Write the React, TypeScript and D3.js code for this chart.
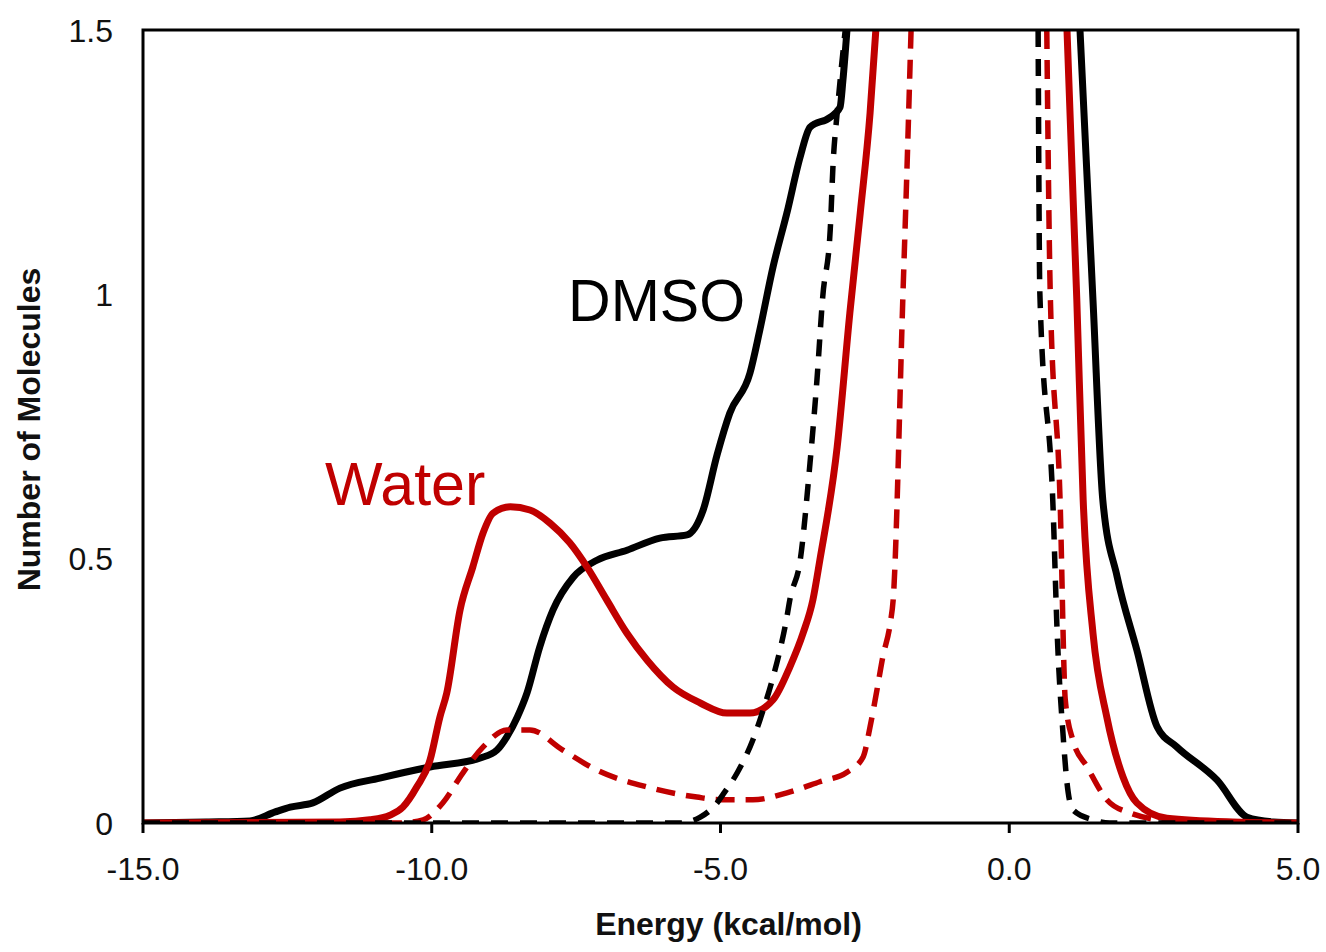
import * as d3 from 'd3';

// values (energy in kcal/mol, number of molecules)
const energyTicks = [-15, -10, -5, 0, 5];
const energyTickLabels = ['-15.0', '-10.0', '-5.0', '0.0', '5.0'];
const countTicks = [0, 0.5, 1, 1.5];
const countTickLabels = ['0', '0.5', '1', '1.5'];

// DMSO, solid line (left and right of the off-scale peak)
const dmsoSolidLeft: [number, number][] = [
  [-15, 0], [-13.9, 0.002], [-13.15, 0.004], [-12.71, 0.021], [-12.45, 0.03],
  [-12.06, 0.038], [-11.59, 0.066], [-10.9, 0.085], [-10.03, 0.106], [-9.16, 0.123],
  [-8.87, 0.138], [-8.7, 0.163], [-8.52, 0.2], [-8.35, 0.246], [-8.13, 0.333],
  [-7.9, 0.403], [-7.55, 0.465], [-7.14, 0.497], [-6.62, 0.516], [-6.05, 0.539],
  [-5.58, 0.545], [-5.3, 0.592], [-5.06, 0.696], [-4.84, 0.775], [-4.49, 0.851],
  [-4.32, 0.932], [-4.09, 1.052], [-3.85, 1.154], [-3.62, 1.26], [-3.45, 1.316],
  [-3.1, 1.335], [-2.93, 1.354], [-2.88, 1.405], [-2.81, 1.5],
];
const dmsoSolidRight: [number, number][] = [
  [1.225, 1.5], [1.45, 0.989], [1.62, 0.611], [1.87, 0.465], [2.21, 0.327],
  [2.56, 0.182], [2.9, 0.144], [3.6, 0.081], [4.12, 0.011], [4.57, 0.002], [5, 0],
];

// DMSO, dashed line
const dmsoDashedLeft: [number, number][] = [
  [-15, 0], [-5.7, 0], [-5.35, 0.011], [-5.06, 0.038], [-4.95, 0.055], [-4.71, 0.095],
  [-4.44, 0.157], [-4.26, 0.214], [-4.09, 0.276], [-3.97, 0.327], [-3.85, 0.39],
  [-3.8, 0.422], [-3.62, 0.497], [-3.45, 0.681], [-3.33, 0.838], [-3.23, 0.995],
  [-3.1, 1.122], [-3.05, 1.248], [-2.98, 1.343], [-2.84, 1.5],
];
const dmsoDashedRight: [number, number][] = [
  [0.5, 1.5], [0.53, 1.002], [0.76, 0.592], [0.83, 0.359], [0.93, 0.17],
  [1.0, 0.076], [1.1, 0.025], [1.45, 0.006], [1.74, 0], [5, 0],
];

// Water, solid line
const waterSolidLeft: [number, number][] = [
  [-15, 0], [-11.59, 0.002], [-11.07, 0.006], [-10.72, 0.015], [-10.5, 0.03],
  [-10.26, 0.068], [-10.03, 0.119], [-9.86, 0.2], [-9.74, 0.246], [-9.51, 0.403],
  [-9.29, 0.484], [-9.11, 0.549], [-8.94, 0.586], [-8.64, 0.598], [-8.3, 0.592],
  [-7.95, 0.567], [-7.61, 0.53], [-7.31, 0.484], [-6.97, 0.422], [-6.62, 0.359],
  [-6.27, 0.308], [-5.82, 0.257], [-5.35, 0.227], [-4.89, 0.208], [-4.49, 0.208],
  [-4.09, 0.233], [-3.8, 0.295], [-3.57, 0.359], [-3.4, 0.422], [-3.28, 0.497],
  [-2.98, 0.711], [-2.76, 0.965], [-2.58, 1.154], [-2.41, 1.343], [-2.31, 1.5],
];
const waterSolidRight: [number, number][] = [
  [1.0, 1.5], [1.17, 0.989], [1.28, 0.611], [1.45, 0.359], [1.69, 0.2],
  [1.97, 0.087], [2.21, 0.038], [2.73, 0.009], [3.87, 0.002], [5, 0],
];

// Water, dashed line
const waterDashedLeft: [number, number][] = [
  [-15, 0], [-10.55, 0], [-10.15, 0.006], [-9.81, 0.038], [-9.46, 0.095],
  [-9.11, 0.144], [-8.7, 0.176], [-8.3, 0.176], [-7.73, 0.138], [-7.14, 0.1],
  [-6.27, 0.068], [-5.41, 0.049], [-5.01, 0.044], [-4.44, 0.044], [-3.85, 0.057],
  [-3.28, 0.078], [-2.81, 0.096], [-2.53, 0.125], [-2.41, 0.182], [-2.29, 0.252],
  [-2.19, 0.314], [-2.06, 0.378], [-2.01, 0.422], [-1.84, 1.002], [-1.77, 1.241],
  [-1.7, 1.5],
];
const waterDashedRight: [number, number][] = [
  [0.65, 1.5], [0.71, 1.002], [0.88, 0.611], [0.97, 0.233], [1.1, 0.157],
  [1.35, 0.106], [1.69, 0.044], [2.09, 0.019], [2.78, 0.004], [3.65, 0], [5, 0],
];

const RED = '#c00000';
const FONT = 'Arial, "Liberation Sans", sans-serif';

export default function App() {
  const width = 1326;
  const height = 952;
  const margin = { top: 30, right: 28, bottom: 129, left: 143 };
  const innerW = width - margin.left - margin.right;
  const innerH = height - margin.top - margin.bottom;

  const x = d3.scaleLinear().domain([-15, 5]).range([0, innerW]);
  const y = d3.scaleLinear().domain([0, 1.5]).range([innerH, 0]);

  const line = d3
    .line<[number, number]>()
    .x((d) => x(d[0]))
    .y((d) => y(d[1]))
    .curve(d3.curveMonotoneX);

  const series = [
    { parts: [dmsoSolidLeft, dmsoSolidRight], color: '#000', dash: null, w: 7 },
    { parts: [waterSolidLeft, waterSolidRight], color: RED, dash: null, w: 7 },
    { parts: [waterDashedLeft, waterDashedRight], color: RED, dash: '19 11', w: 5.5 },
    { parts: [dmsoDashedLeft, dmsoDashedRight], color: '#000', dash: '17 12', w: 5.5 },
  ];

  return (
    <svg
      width={width}
      height={height}
      style={{ position: 'absolute', left: 0, top: 0, background: '#fff' }}
    >
      <defs>
        <clipPath id="plot-clip">
          <rect x={0} y={0} width={innerW} height={innerH} />
        </clipPath>
      </defs>
      <g transform={`translate(${margin.left},${margin.top})`}>
        <g clipPath="url(#plot-clip)">
          {series.map((s, i) =>
            s.parts.map((p, j) => (
              <path
                key={`${i}-${j}`}
                d={line(p) ?? ''}
                fill="none"
                stroke={s.color}
                strokeWidth={s.w}
                strokeDasharray={s.dash ?? undefined}
                strokeLinejoin="round"
              />
            ))
          )}
        </g>

        {/* frame */}
        <rect x={0} y={0} width={innerW} height={innerH} fill="none" stroke="#000" strokeWidth={3} />

        {/* x axis */}
        {energyTicks.map((t, i) => (
          <g key={t} transform={`translate(${x(t)},${innerH})`}>
            <line y1={0} y2={10} stroke="#000" strokeWidth={3} />
            <text y={57} textAnchor="middle" fontFamily={FONT} fontSize={32} fill="#111">
              {energyTickLabels[i]}
            </text>
          </g>
        ))}

        {/* y axis */}
        {countTicks.map((t, i) => (
          <text
            key={t}
            x={-30}
            y={y(t)}
            dy="0.36em"
            textAnchor="end"
            fontFamily={FONT}
            fontSize={32}
            fill="#111"
          >
            {countTickLabels[i]}
          </text>
        ))}

        <text
          x={innerW / 2 + 8}
          y={innerH + 112}
          textAnchor="middle"
          fontFamily={FONT}
          fontWeight="bold"
          fontSize={32}
          fill="#111"
        >
          Energy (kcal/mol)
        </text>
        <text
          transform={`translate(${-103},${innerH / 2 + 3}) rotate(-90)`}
          textAnchor="middle"
          fontFamily={FONT}
          fontWeight="bold"
          fontSize={32}
          fill="#111"
        >
          Number of Molecules
        </text>

        {/* series labels */}
        <text x={x(-7.64)} y={y(0.95)} fontFamily={FONT} fontSize={59} fill="#000">
          DMSO
        </text>
        <text x={x(-11.85)} y={y(0.601)} fontFamily={FONT} fontSize={61} fill={RED}>
          Water
        </text>
      </g>
    </svg>
  );
}
